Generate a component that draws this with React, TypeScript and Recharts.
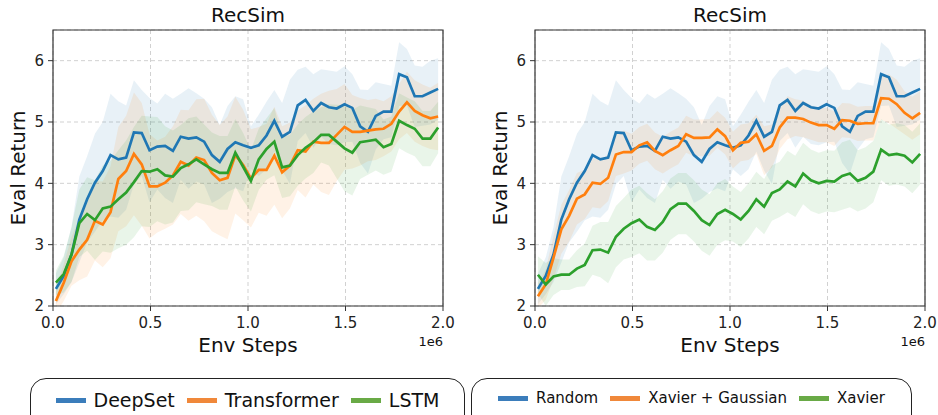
import React from "react";
import { ComposedChart, Line, Area, XAxis, YAxis, CartesianGrid, ReferenceArea } from "recharts";

// env steps (x 1e6)
const steps = [
  0.015, 0.055, 0.095, 0.135, 0.175, 0.215, 0.255, 0.295, 0.335, 0.375,
  0.415, 0.455, 0.495, 0.535, 0.575, 0.615, 0.655, 0.695, 0.735, 0.775,
  0.815, 0.855, 0.895, 0.935, 0.975, 1.015, 1.055, 1.095, 1.135, 1.175,
  1.215, 1.255, 1.295, 1.335, 1.375, 1.415, 1.455, 1.495, 1.535, 1.575,
  1.615, 1.655, 1.695, 1.735, 1.775, 1.815, 1.855, 1.895, 1.935, 1.975,
];

// DeepSet (left) == Random (right)
const deepSet = [
  2.28, 2.49, 2.84, 3.41, 3.74, 4.01, 4.2, 4.46, 4.39, 4.42,
  4.83, 4.82, 4.54, 4.6, 4.61, 4.53, 4.76, 4.73, 4.75, 4.68,
  4.46, 4.35, 4.56, 4.67, 4.62, 4.58, 4.62, 4.78, 5.02, 4.76,
  4.84, 5.27, 5.36, 5.18, 5.31, 5.24, 5.22, 5.29, 5.23, 4.93,
  4.84, 5.1, 5.17, 5.17, 5.78, 5.73, 5.42, 5.42, 5.48, 5.54,
];
const deepSetStd = [
  0.25, 0.3, 0.45, 0.7, 0.7, 0.8, 0.8, 1.0, 0.95, 0.85,
  0.85, 0.7, 0.85, 0.7, 0.85, 0.85, 0.7, 0.82, 0.72, 0.7,
  0.78, 0.6, 0.7, 0.75, 0.75, 0.35, 0.5, 0.55, 0.5, 0.55,
  0.85, 0.58, 0.54, 0.6, 0.55, 0.6, 0.6, 0.62, 0.55, 0.6,
  0.68, 0.55, 0.45, 0.42, 0.52, 0.46, 0.5, 0.48, 0.52, 0.5,
];

const transformer = [
  2.08, 2.38, 2.73, 2.92, 3.08, 3.39, 3.33, 3.53, 4.07, 4.2,
  4.48, 4.31, 3.95, 3.95, 4.01, 4.13, 4.35, 4.29, 4.42, 4.38,
  4.17, 4.05, 4.09, 4.46, 4.3, 4.08, 4.22, 4.22, 4.45, 4.18,
  4.29, 4.54, 4.52, 4.68, 4.66, 4.66, 4.79, 4.92, 4.84, 4.84,
  4.86, 4.88, 4.89, 4.97, 5.17, 5.32, 5.18, 5.11, 5.06, 5.09,
];
const transformerStd = [
  0.2, 0.3, 0.4, 0.5, 0.6, 0.65, 0.7, 0.75, 0.85, 0.9,
  1.0, 1.0, 0.85, 0.75, 0.75, 0.8, 0.85, 0.9, 0.95, 1.0,
  0.95, 0.9, 1.0, 0.95, 0.9, 0.8, 0.7, 0.75, 0.8, 0.75,
  0.7, 0.65, 0.75, 0.7, 0.8, 0.85, 0.75, 0.7, 0.6, 0.55,
  0.5, 0.5, 0.45, 0.45, 0.45, 0.5, 0.5, 0.5, 0.5, 0.55,
];

const lstm = [
  2.38, 2.52, 2.84, 3.35, 3.5, 3.4, 3.59, 3.62, 3.74, 3.85,
  4.02, 4.2, 4.19, 4.23, 4.13, 4.11, 4.25, 4.31, 4.39, 4.31,
  4.23, 4.17, 4.17, 4.5, 4.27, 4.04, 4.39, 4.56, 4.68, 4.26,
  4.29, 4.46, 4.58, 4.67, 4.79, 4.79, 4.68, 4.57, 4.5, 4.67,
  4.69, 4.71, 4.59, 4.64, 5.02, 4.95, 4.89, 4.73, 4.73, 4.91,
];
const lstmStd = [
  0.2, 0.3, 0.45, 0.55, 0.6, 0.65, 0.7, 0.75, 0.8, 0.85,
  0.9, 0.9, 0.9, 0.85, 0.8, 0.75, 0.7, 0.75, 0.7, 0.65,
  0.6, 0.6, 0.6, 0.55, 0.55, 0.5, 0.5, 0.5, 0.55, 0.5,
  0.5, 0.5, 0.5, 0.5, 0.45, 0.5, 0.6, 0.7, 0.7, 0.6,
  0.55, 0.5, 0.45, 0.45, 0.45, 0.45, 0.45, 0.45, 0.45, 0.42,
];

const xavierGaussian = [
  2.16, 2.35, 2.79, 3.25, 3.47, 3.75, 3.82, 4.01, 3.99, 4.09,
  4.47, 4.51, 4.51, 4.62, 4.67, 4.53, 4.46, 4.54, 4.61, 4.8,
  4.74, 4.74, 4.75, 4.88, 4.77, 4.54, 4.66, 4.68, 4.8, 4.53,
  4.61, 4.91, 5.07, 5.07, 5.05, 4.99, 4.95, 4.95, 4.89, 5.03,
  5.02, 4.97, 4.98, 4.98, 5.39, 5.38, 5.29, 5.15, 5.06, 5.15,
];
const xavierGaussianStd = [
  0.2, 0.25, 0.35, 0.4, 0.42, 0.42, 0.4, 0.4, 0.4, 0.38,
  0.35, 0.35, 0.3, 0.3, 0.3, 0.3, 0.3, 0.3, 0.3, 0.3,
  0.3, 0.3, 0.3, 0.3, 0.3, 0.3, 0.3, 0.3, 0.32, 0.4,
  0.35, 0.35, 0.35, 0.3, 0.3, 0.28, 0.28, 0.28, 0.28, 0.28,
  0.28, 0.28, 0.28, 0.28, 0.35, 0.4, 0.4, 0.35, 0.35, 0.35,
];

const xavier = [
  2.51, 2.35, 2.48, 2.51, 2.51, 2.61, 2.67, 2.91, 2.92, 2.87,
  3.13, 3.26, 3.35, 3.41, 3.29, 3.24, 3.37, 3.58, 3.67, 3.67,
  3.55, 3.4, 3.32, 3.5, 3.57, 3.5, 3.41, 3.55, 3.74, 3.62,
  3.84, 3.9, 4.03, 3.95, 4.16, 4.05, 4.0, 4.04, 4.03, 4.12,
  4.16, 4.04, 4.09, 4.19, 4.55, 4.46, 4.48, 4.45, 4.34, 4.48,
];
const xavierStd = [
  0.3, 0.35, 0.3, 0.25, 0.25, 0.3, 0.35, 0.4, 0.45, 0.5,
  0.5, 0.5, 0.55, 0.55, 0.55, 0.5, 0.5, 0.5, 0.5, 0.5,
  0.5, 0.5, 0.5, 0.5, 0.5, 0.45, 0.45, 0.45, 0.45, 0.45,
  0.45, 0.45, 0.5, 0.5, 0.5, 0.5, 0.5, 0.5, 0.5, 0.55,
  0.55, 0.5, 0.5, 0.5, 0.5, 0.5, 0.5, 0.5, 0.5, 0.5,
];

const xTicks = [0, 0.5, 1, 1.5, 2];
const yTicks = [2, 3, 4, 5, 6];

const BLUE = "#1f77b4";
const ORANGE = "#ff7f0e";
const GREEN = "#2ca02c";
const FONT = "'DejaVu Sans', sans-serif";

type Series = { key: string; mean: number[]; std: number[]; color: string };

const leftSeries: Series[] = [
  { key: "deepSet", mean: deepSet, std: deepSetStd, color: BLUE },
  { key: "transformer", mean: transformer, std: transformerStd, color: ORANGE },
  { key: "lstm", mean: lstm, std: lstmStd, color: GREEN },
];
const rightSeries: Series[] = [
  { key: "random", mean: deepSet, std: deepSetStd, color: BLUE },
  { key: "xavierGaussian", mean: xavierGaussian, std: xavierGaussianStd, color: ORANGE },
  { key: "xavier", mean: xavier, std: xavierStd, color: GREEN },
];

function buildRows(series: Series[]) {
  return steps.map((x, i) => {
    const row: any = { x };
    series.forEach((s) => {
      row[s.key] = s.mean[i];
      row[s.key + "Band"] = [s.mean[i] - s.std[i], s.mean[i] + s.std[i]];
    });
    return row;
  });
}

const tickStyle = { fontSize: 15, fill: "#222", fontFamily: FONT };

function Panel({ left, series }: { left: number; series: Series[] }) {
  const rows = buildRows(series);
  const text = (s: React.CSSProperties) => ({
    position: "absolute" as const,
    fontFamily: FONT,
    color: "#111",
    whiteSpace: "nowrap" as const,
    lineHeight: 1,
    ...s,
  });
  return (
    <div style={{ position: "absolute", left, top: 0, width: 470, height: 370 }}>
      <ComposedChart width={470} height={360} data={rows} margin={{ top: 30, right: 27, left: 13, bottom: 24 }}>
        <CartesianGrid stroke="#cccccc" strokeDasharray="4 3" strokeWidth={0.9} />
        <XAxis
          dataKey="x"
          type="number"
          domain={[0, 2]}
          ticks={xTicks}
          allowDataOverflow
          height={30}
          tickFormatter={(v: number) => v.toFixed(1)}
          tick={tickStyle}
          tickSize={5}
          tickMargin={6}
          axisLine={false}
          tickLine={{ stroke: "#333" }}
        />
        <YAxis
          type="number"
          domain={[2, 6.5]}
          ticks={yTicks}
          allowDataOverflow
          width={40}
          tick={tickStyle}
          tickSize={5}
          tickMargin={4}
          axisLine={false}
          tickLine={{ stroke: "#333" }}
        />
        {series.map((s) => (
          <Area
            key={s.key + "Band"}
            dataKey={s.key + "Band"}
            type="linear"
            stroke="none"
            fill={s.color}
            fillOpacity={0.1}
            dot={false}
            activeDot={false}
            isAnimationActive={false}
          />
        ))}
        {series.map((s) => (
          <Line
            key={s.key}
            dataKey={s.key}
            type="linear"
            stroke={s.color}
            strokeWidth={2.7}
            dot={false}
            activeDot={false}
            isAnimationActive={false}
          />
        ))}
        <ReferenceArea x1={0} x2={2} y1={2} y2={6.5} fill="none" stroke="#333" strokeWidth={1.2} />
      </ComposedChart>
      <div style={text({ left: 248, top: 15, fontSize: 20, transform: "translate(-50%, -50%)" })}>RecSim</div>
      <div style={text({ left: 18, top: 168, fontSize: 20, transform: "translate(-50%, -50%) rotate(-90deg)" })}>
        Eval Return
      </div>
      <div style={text({ left: 248, top: 345, fontSize: 20, transform: "translate(-50%, -50%)" })}>Env Steps</div>
      <div style={text({ left: 443, top: 341, fontSize: 13, transform: "translate(-100%, -50%)" })}>1e6</div>
    </div>
  );
}

function LegendBox({ left, width, fontSize, gap, items }: { left: number; width: number; fontSize: number; gap: number; items: { label: string; color: string }[] }) {
  return (
    <div
      style={{
        position: "absolute",
        left,
        top: 378,
        width,
        height: 60,
        border: "1.3px solid #222",
        borderRadius: 16,
        boxSizing: "border-box",
        display: "flex",
        alignItems: "flex-start",
        justifyContent: "center",
        paddingTop: 12,
        fontFamily: FONT,
        fontSize,
        color: "#111",
        lineHeight: 1,
      }}
    >
      {items.map((it, i) => (
        <div key={it.label} style={{ display: "flex", alignItems: "center", marginLeft: i === 0 ? 0 : gap }}>
          <span style={{ display: "inline-block", width: 30, height: 5, background: it.color, marginRight: 8 }} />
          <span>{it.label}</span>
        </div>
      ))}
    </div>
  );
}

export default function App() {
  return (
    <div style={{ position: "absolute", left: 0, top: 0, width: 938, height: 415, background: "#fff", overflow: "hidden" }}>
      <Panel left={0} series={leftSeries} />
      <Panel left={482} series={rightSeries} />
      <LegendBox
        left={30}
        width={435}
        fontSize={19}
        gap={12}
        items={[
          { label: "DeepSet", color: "#3b7dbb" },
          { label: "Transformer", color: "#f0883a" },
          { label: "LSTM", color: "#69aa46" },
        ]}
      />
      <LegendBox
        left={471}
        width={441}
        fontSize={15}
        gap={12}
        items={[
          { label: "Random", color: "#3b7dbb" },
          { label: "Xavier + Gaussian", color: "#f0883a" },
          { label: "Xavier", color: "#69aa46" },
        ]}
      />
    </div>
  );
}
